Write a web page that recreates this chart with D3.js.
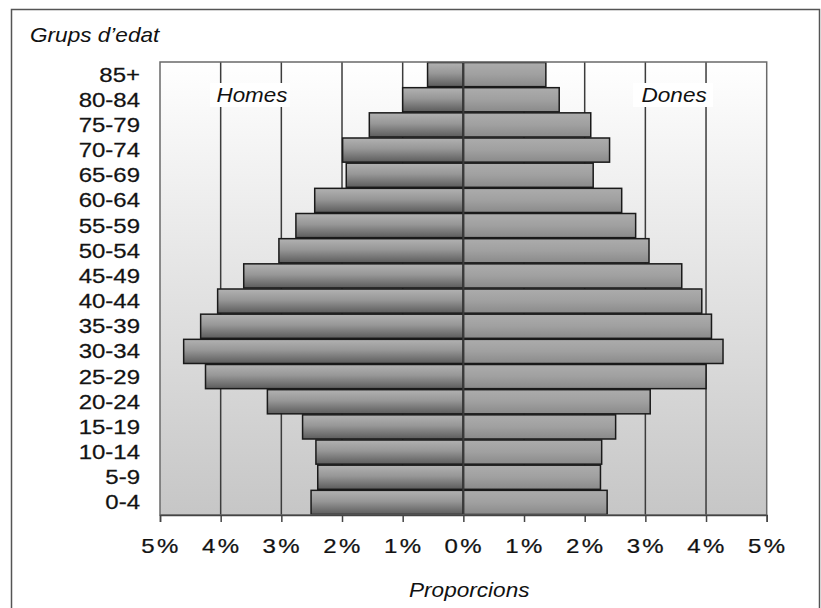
<!DOCTYPE html>
<html>
<head>
<meta charset="utf-8">
<script src="https://cdn.jsdelivr.net/npm/d3@7"></script>
<style>
  html, body { margin: 0; padding: 0; background: #fff; }
  svg { display: block; font-family: "Liberation Sans", Arial, sans-serif; }
</style>
</head>
<body>
<svg id="chart" width="821" height="608"></svg>
<script>
// grups d'edat, de dalt a baix
const ages = ["85+", "80-84", "75-79", "70-74", "65-69", "60-64", "55-59", "50-54", "45-49",
  "40-44", "35-39", "30-34", "25-29", "20-24", "15-19", "10-14", "5-9", "0-4"];
// proporcions (%)
const homes = [0.59, 1.00, 1.55, 1.99, 1.93, 2.45, 2.76, 3.04, 3.62, 4.05, 4.33, 4.61, 4.25, 3.23, 2.65, 2.43, 2.40, 2.51];
const dones = [1.36, 1.58, 2.10, 2.41, 2.14, 2.61, 2.84, 3.06, 3.60, 3.93, 4.09, 4.28, 4.00, 3.08, 2.51, 2.28, 2.26, 2.37];
const xTicks = [-5, -4, -3, -2, -1, 0, 1, 2, 3, 4, 5];

const svg = d3.select("#chart");
const plot = { left: 160, right: 766.7, top: 62, bottom: 515 };

const x = d3.scaleLinear().domain([-5, 5]).range([plot.left, plot.right]);
const y = d3.scaleBand().domain(ages).range([plot.top, plot.bottom]).paddingInner(0.04).paddingOuter(0.02);

const defs = svg.append("defs");
function vGrad(id, stops) {
  const g = defs.append("linearGradient").attr("id", id).attr("x1", 0).attr("x2", 0).attr("y1", 0).attr("y2", 1);
  stops.forEach(([o, c]) => g.append("stop").attr("offset", o).attr("stop-color", c));
}
vGrad("bg", [[0, "#ffffff"], [1, "#c6c6c6"]]);
vGrad("barM", [[0, "#b2b2b2"], [0.45, "#979797"], [1, "#5c5c5c"]]);
vGrad("barF", [[0, "#acacac"], [0.5, "#a0a0a0"], [1, "#8a8a8a"]]);

// marc exterior
svg.append("rect").attr("x", 11.5).attr("y", 9.5).attr("width", 808).attr("height", 620)
  .attr("fill", "#fff").attr("stroke", "#555").attr("stroke-width", 1.5);

// fons de l'àrea del gràfic
svg.append("rect").attr("x", plot.left).attr("y", plot.top)
  .attr("width", plot.right - plot.left).attr("height", plot.bottom - plot.top)
  .attr("fill", "url(#bg)");

// línies de graella
svg.append("g").selectAll("line").data(xTicks.filter(d => Math.abs(d) < 5 && d !== 0)).join("line")
  .attr("x1", d => x(d)).attr("x2", d => x(d)).attr("y1", plot.top).attr("y2", plot.bottom)
  .attr("stroke", "#3c3c3c").attr("stroke-width", 1.5);

// text eixamplat horitzontalment com a l'original
function stretchText(g, tx, ty, txt, size, sx, anchor, style, heavy) {
  const t = g.append("text").attr("transform", `translate(${tx},${ty}) scale(${sx},1)`)
    .attr("text-anchor", anchor).attr("font-size", size).attr("font-style", style || "normal")
    .attr("fill", "#111").text(txt);
  if (heavy) t.attr("stroke", "#222").attr("stroke-width", 0.25);
  return t;
}
const lab = svg.append("g");
lab.append("rect").attr("x", 210).attr("y", 83).attr("width", 80).attr("height", 24).attr("fill", "#fff");
lab.append("rect").attr("x", 633).attr("y", 83).attr("width", 80).attr("height", 24).attr("fill", "#fff");
stretchText(lab, 216.5, 101.7, "Homes", 20, 1.12, "start", "italic");
stretchText(lab, 641.5, 101.7, "Dones", 20, 1.13, "start", "italic");

// barres
const bars = svg.append("g");
bars.selectAll("rect.m").data(ages).join("rect").attr("class", "m")
  .attr("x", (d, i) => x(-homes[i])).attr("y", d => y(d))
  .attr("width", (d, i) => x(0) - x(-homes[i])).attr("height", y.bandwidth())
  .attr("fill", "url(#barM)").attr("stroke", "#1a1a1a").attr("stroke-width", 1.5);
bars.selectAll("rect.f").data(ages).join("rect").attr("class", "f")
  .attr("x", x(0)).attr("y", d => y(d))
  .attr("width", (d, i) => x(dones[i]) - x(0)).attr("height", y.bandwidth())
  .attr("fill", "url(#barF)").attr("stroke", "#1a1a1a").attr("stroke-width", 1.5);

// línia central 0%
svg.append("line").attr("x1", x(0)).attr("x2", x(0)).attr("y1", plot.top).attr("y2", plot.bottom)
  .attr("stroke", "#3a3a3a").attr("stroke-width", 2);

// vora de l'àrea
svg.append("rect").attr("x", plot.left).attr("y", plot.top)
  .attr("width", plot.right - plot.left).attr("height", plot.bottom - plot.top)
  .attr("fill", "none").attr("stroke", "#6a6a6a").attr("stroke-width", 1.5);

// eix X
const xAxis = svg.append("g").attr("transform", `translate(0,${plot.bottom})`)
  .call(d3.axisBottom(x).tickValues(xTicks).tickSize(7).tickFormat(() => ""));
xAxis.select(".domain").attr("stroke", "#444").attr("stroke-width", 1.5);
xAxis.selectAll(".tick line").attr("stroke", "#444").attr("stroke-width", 1.5);
const tl = svg.append("g").attr("letter-spacing", "2px");
xTicks.forEach(d => stretchText(tl, x(d) + 1, 553, Math.abs(d) + "%", 20, 1.2, "middle", null, true));

// eix Y
const yl = svg.append("g");
ages.forEach(a => stretchText(yl, 140, y(a) + y.bandwidth() / 2 + 7, a, 19.5, 1.23, "end", null, true));

// títols
stretchText(svg, 30, 41.7, "Grups d\u2019edat", 20, 1.13, "start", "italic");
stretchText(svg, 409, 596.5, "Proporcions", 20, 1.13, "start", "italic");
</script>
</body>
</html>
